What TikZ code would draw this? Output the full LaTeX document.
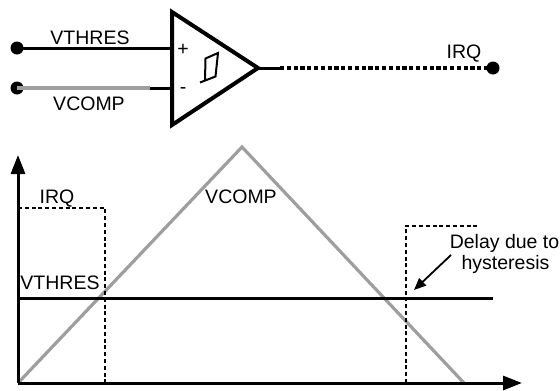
\documentclass[tikz,border=0pt]{standalone}
\usepackage{fontspec}
\setmainfont{Liberation Sans}
\usetikzlibrary{arrows.meta}
\definecolor{graycol}{RGB}{158,158,158}
\tikzset{
  wire/.style={line width=3pt},
  graywire/.style={line width=3.2pt, draw=graycol},
  dotwire/.style={line width=3.4pt, dash pattern=on 4.2pt off 2.6pt},
  thindot/.style={line width=2.6pt, dash pattern=on 4pt off 2.8pt},
  termdot/.style={circle, fill=black, inner sep=0pt, minimum size=13pt},
  lbl/.style={font=\fontsize{19.5pt}{22pt}\selectfont, inner sep=0pt, anchor=base},
  bigtip/.style={-{Triangle[length=19pt,width=14pt]}},
  smalltip/.style={-{Triangle[length=12pt,width=10pt]}, line width=1.8pt}
}
\begin{document}
\begin{tikzpicture}[x=1pt,y=-1pt]
\useasboundingbox (0,0) rectangle (560,391);
% ---------- comparator ----------
\node[termdot] (inA) at (17,48) {};
\node[termdot] (inB) at (17,88) {};
\node[termdot] (outdot) at (493,68) {};
\coordinate (tl) at (172,12);
\coordinate (bl) at (172,125);
\coordinate (apex) at (258,68);
\coordinate (plusin) at (172,48);
\coordinate (minusin) at (172,88);
\coordinate (minusmid) at (150,88);
\coordinate (outmid) at (280,68);
\draw[wire] (inA.center) -- (plusin);
\draw[graywire] (inB.center) -- (minusmid);
\draw[wire] (minusmid) -- (minusin);
\draw[line width=4pt, line join=miter] (tl) -- (apex) -- (bl) -- cycle;
\draw[wire] (apex) -- (outmid);
\draw[dotwire] (outmid) -- (outdot.center);
% hysteresis symbol
\draw[line width=2pt, line join=miter]
  (200,82.5) -- (215.5,76.5) -- (218,53) -- (205.5,58.5) -- (205,80.5);
\node[lbl] (plus) at (183,55) {+};
\node[lbl] (minus) at (183,93) {-};
\node[lbl] (lvthres) at (90,44) {VTHRES};
\node[lbl] (lvcomp) at (89,110) {VCOMP};
\node[lbl] (lirq) at (464,58) {IRQ};
% ---------- timing graph ----------
\coordinate (O) at (18,383);
\coordinate (ytip) at (18,155);
\coordinate (xtip) at (522,383);
\coordinate (peak) at (242,147);
\coordinate (vend) at (464,383);
\coordinate (thA) at (18,298);
\coordinate (thB) at (493,298);
\coordinate (irqA) at (18,208);
\coordinate (irqB) at (105,208);
\coordinate (irqC) at (105,383);
\coordinate (irqD) at (406,383);
\coordinate (irqE) at (406,226);
\coordinate (irqF) at (478,226);
\draw[graywire] (O) -- (peak) -- (vend);
\draw[wire] (thA) -- (thB);
\draw[thindot] (irqA) -- (irqB) -- (irqC);
\draw[thindot] (irqD) -- (irqE) -- (irqF);
\draw[wire, bigtip] (O) -- (ytip);
\draw[wire, bigtip] (O) -- (xtip);
\node[lbl] (girq) at (57,203) {IRQ};
\node[lbl] (gvcomp) at (241,203) {VCOMP};
\node[lbl] (gvthres) at (60,289) {VTHRES};
\node[lbl] (delay1) at (504.5,248) {Delay due to};
\node[lbl] (delay2) at (505.5,269) {hysteresis};
\coordinate (arrS) at (451,255);
\coordinate (arrE) at (414,290);
\draw[smalltip] (arrS) -- (arrE);
\end{tikzpicture}
\end{document}
